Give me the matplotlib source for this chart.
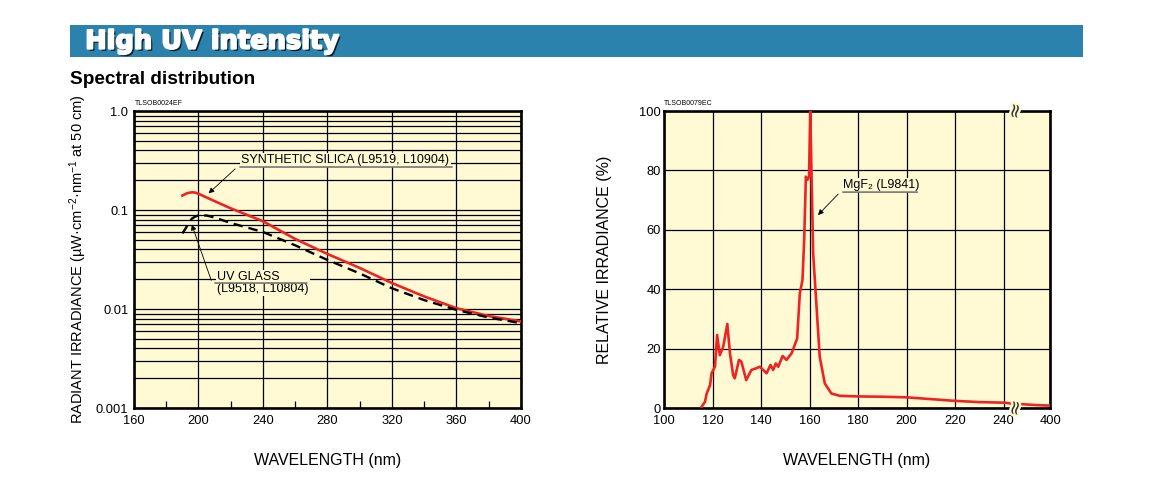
import numpy as np
import matplotlib
matplotlib.use('Agg')
import matplotlib.pyplot as plt
import matplotlib.patheffects as pe
from matplotlib.patches import Rectangle

plt.rcParams['font.family'] = ['Liberation Sans', 'DejaVu Sans']
plt.rcParams['mathtext.fontset'] = 'custom'
plt.rcParams['mathtext.rm'] = 'Liberation Sans'
plt.rcParams['mathtext.it'] = 'Liberation Sans:italic'
plt.rcParams['mathtext.bf'] = 'Liberation Sans:bold'

# left chart: radiant irradiance (log scale)
silica_wl = [190, 193, 196, 198, 200, 210, 220, 240, 260, 280, 300, 320, 340, 360, 380, 400]
silica_val = [0.140, 0.148, 0.151, 0.150, 0.146, 0.123, 0.104, 0.077, 0.051, 0.036, 0.026,
              0.0183, 0.0134, 0.0102, 0.0085, 0.0075]
glass_wl = [190, 192, 194, 196, 198, 200, 205, 210, 220, 240, 260, 280, 300, 320, 340, 360, 380, 400]
glass_val = [0.058, 0.065, 0.074, 0.082, 0.086, 0.088, 0.088, 0.084, 0.074, 0.060, 0.044, 0.0313,
             0.0229, 0.0162, 0.0123, 0.0098, 0.0082, 0.0072]
left_xticks = [160, 200, 240, 280, 320, 360, 400]
left_yticks = [0.001, 0.01, 0.1, 1.0]
left_ylabels = ['0.001', '0.01', '0.1', '1.0']

# right chart: relative irradiance of MgF2 window
mgf2_wl = [115.5, 116.9, 117.6, 119.0, 119.6, 121.0, 121.9, 123.0, 124.4, 126.1, 127.2, 128.5,
           129.2, 130.9, 131.9, 133.9, 136.0, 138.1, 139.5, 142.3, 143.9, 145.0, 146.1, 147.1,
           148.9, 150.5, 152.6, 154.9, 156.0, 157.1, 157.8, 158.5, 159.1, 159.8, 160.3, 161.5,
           162.9, 164.2, 166.3, 169.0, 172.5, 180, 190, 200, 210, 220, 230, 240, 260, 300, 350, 400]
mgf2_val = [0.4, 2.1, 4.9, 7.7, 11.7, 13.9, 24.6, 17.8, 20.6, 28.3, 18.4, 11.1,
            10.0, 16.2, 15.6, 9.4, 12.8, 13.4, 13.9, 11.7, 14.5, 12.8, 15.0, 13.9,
            17.5, 16.2, 18.4, 23.4, 38.6, 43.1, 56.6, 77.9, 76.8, 77.9, 100, 52.0,
            34.1, 17.3, 8.3, 4.9, 4.1, 3.9, 3.8, 3.6, 3.0, 2.4, 2.0, 1.8, 1.6, 1.3, 1.0, 0.8]
right_xticks = [100, 120, 140, 160, 180, 200, 220, 240, 400]
right_yticks = [0, 20, 40, 60, 80, 100]

bg = '#fffad3'
red = '#ee2424'

fig = plt.figure(figsize=(11.67, 4.79), dpi=100)

# header bar
fig.patches.append(Rectangle((0.06, 0.881), 0.868, 0.067, transform=fig.transFigure,
                             facecolor='#2b83ad', edgecolor='none'))
fig.text(0.073, 0.913, 'High UV intensity', family=['DejaVu Sans'], weight='bold',
         fontsize=18.5, color='white', va='center',
         path_effects=[pe.SimplePatchShadow(offset=(1.5, -1.5), shadow_rgbFace='#0a1a2a', alpha=1),
                       pe.Stroke(linewidth=1.4, foreground='white'), pe.Normal()])
fig.text(0.06, 0.833, 'Spectral distribution', weight='bold', fontsize=13.7, va='center')


def frame(ax):
    ax.set_facecolor(bg)
    for s in ax.spines.values():
        s.set_linewidth(1.9)
    ax.tick_params(labelsize=9.3)


# ---- left chart
ax1 = fig.add_axes([0.1148, 0.1482, 0.3316, 0.6200])
frame(ax1)
ax1.plot(silica_wl, silica_val, color=red, lw=1.9, zorder=3)
ax1.plot(glass_wl, glass_val, color='black', lw=1.7, ls=(0, (4, 2.5)), zorder=3)
ax1.set_yscale('log')
ax1.set_xlim(160, 400)
ax1.set_ylim(0.001, 1.0)
ax1.set_xticks(left_xticks)
ax1.set_xticks(np.arange(180, 400, 40), minor=True)
ax1.set_yticks(left_yticks)
ax1.set_yticklabels(left_ylabels)
ax1.yaxis.set_minor_formatter(matplotlib.ticker.NullFormatter())
ax1.grid(True, which='major', color='black', lw=0.9)
ax1.grid(True, which='minor', axis='y', color='black', lw=0.9)
ax1.tick_params(axis='y', which='both', length=0, pad=4)
ax1.tick_params(axis='x', which='major', length=0, pad=5)
ax1.tick_params(axis='x', which='minor', direction='in', length=5, width=0.9)
ax1.set_xlabel('WAVELENGTH (nm)', fontsize=11.5, labelpad=19)
ax1.set_ylabel('RADIANT IRRADIANCE (µW·cm$^{-2}$·nm$^{-1}$ at 50 cm)', fontsize=10.5, labelpad=5)
fig.text(0.1157, 0.783, 'TLSOB0024EF', fontsize=5, va='center')

# labels
ax1.annotate('SYNTHETIC SILICA (L9519, L10904)', xy=(226.5, 0.32), fontsize=9, va='center',
             bbox=dict(facecolor=bg, edgecolor='none', pad=1), zorder=4)
ax1.annotate('', xy=(359, 0.272), xytext=(224, 0.272),
             arrowprops=dict(arrowstyle='-', color='#777777', lw=1.2), zorder=4)
ax1.annotate('', xy=(205, 0.141), xytext=(224, 0.272),
             arrowprops=dict(arrowstyle='-|>', color='black', lw=0.6, mutation_scale=8), zorder=4)
ax1.annotate('UV GLASS\n(L9518, L10804)', xy=(211.5, 0.0183), fontsize=9, va='center',
             linespacing=1.0, bbox=dict(facecolor=bg, edgecolor='none', pad=1), zorder=4)
ax1.annotate('', xy=(269, 0.0183), xytext=(208.5, 0.0183),
             arrowprops=dict(arrowstyle='-', color='#777777', lw=1.2), zorder=5)
ax1.annotate('', xy=(195.3, 0.0757), xytext=(208.5, 0.0183),
             arrowprops=dict(arrowstyle='-|>', color='black', lw=0.6, mutation_scale=8), zorder=4)

# ---- right chart with broken axis above 240 nm
def fwd(x):
    x = np.asarray(x, float)
    return np.where(x <= 240, x, 240 + (x - 240) * 0.12)


def inv(y):
    y = np.asarray(y, float)
    return np.where(y <= 240, y, 240 + (y - 240) / 0.12)


ax2 = fig.add_axes([0.569, 0.1482, 0.3308, 0.6200])
frame(ax2)
ax2.set_xscale('function', functions=(fwd, inv))
ax2.plot(mgf2_wl, mgf2_val, color=red, lw=1.9, zorder=3)
ax2.set_xlim(100, 400)
ax2.set_ylim(0, 100)
ax2.set_xticks(right_xticks)
ax2.set_xticklabels([str(v) for v in right_xticks])
ax2.set_yticks(right_yticks)
ax2.xaxis.set_minor_locator(matplotlib.ticker.NullLocator())
ax2.grid(True, color='black', lw=0.9)
ax2.tick_params(axis='y', length=0, pad=2)
ax2.tick_params(axis='x', length=0, pad=5)
ax2.set_xlabel('WAVELENGTH (nm)', fontsize=11.5, labelpad=19)
ax2.set_ylabel('RELATIVE IRRADIANCE (%)', fontsize=11.5, labelpad=20)
fig.text(0.569, 0.783, 'TLSOB0079EC', fontsize=5, va='center')

ax2.annotate('MgF₂ (L9841)', xy=(173.8, 75.1), fontsize=9, va='center',
             bbox=dict(facecolor=bg, edgecolor='none', pad=1), zorder=4)
ax2.annotate('', xy=(205.6, 72.7), xytext=(172.6, 72.7),
             arrowprops=dict(arrowstyle='-', color='#777777', lw=1.2), zorder=5)
ax2.annotate('', xy=(162.7, 64.3), xytext=(172.6, 72.7),
             arrowprops=dict(arrowstyle='-|>', color='black', lw=0.6, mutation_scale=8), zorder=4)

# axis break marks
brk = ax2.get_xaxis_transform()
for yb in (1.0, 0.0):
    ax2.text(282, yb, '≈', transform=brk, rotation=80, fontsize=14, ha='center', va='center',
             color='#333333', family=['DejaVu Sans'], clip_on=False, zorder=6,
             path_effects=[pe.withStroke(linewidth=3.5, foreground=bg)])

fig.savefig('out.png', dpi=100, facecolor='white')
